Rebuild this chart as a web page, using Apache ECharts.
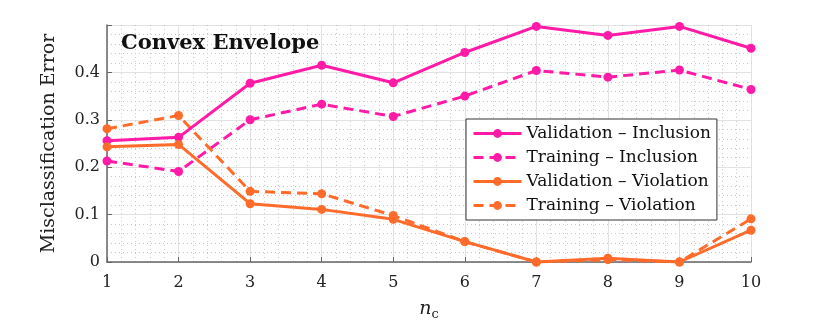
<!DOCTYPE html>
<html>
<head>
<meta charset="utf-8">
<script src="https://cdn.jsdelivr.net/npm/echarts@6/dist/echarts.min.js"></script>
<style>
  html, body { margin: 0; padding: 0; background: #fff; }
  #chart { width: 830px; height: 326px; }
</style>
</head>
<body>
<div id="chart"></div>
<script>
// n_c values on the x axis
const nc = [1, 2, 3, 4, 5, 6, 7, 8, 9, 10]
const valInclusion = [0.256, 0.263, 0.377, 0.415, 0.378, 0.442, 0.497, 0.478, 0.497, 0.451]
const trainInclusion = [0.213, 0.191, 0.300, 0.333, 0.307, 0.350, 0.404, 0.390, 0.405, 0.364]
const valViolation = [0.243, 0.248, 0.123, 0.111, 0.090, 0.043, 0.000, 0.008, 0.000, 0.067]
const trainViolation = [0.281, 0.309, 0.149, 0.144, 0.098, 0.043, 0.000, 0.005, 0.000, 0.091]
const seriesNames = ['Validation – Inclusion', 'Training – Inclusion', 'Validation – Violation', 'Training – Violation']

const pink = '#ff1aa8'
const orange = '#ff6b2b'
const serif = '"DejaVu Serif", "Liberation Serif", serif'

function pairs(ys) {
  return nc.map((x, i) => [x, ys[i]])
}

function makeSeries(name, ys, color, dashed) {
  return {
    name: name,
    type: 'line',
    data: pairs(ys),
    symbol: 'circle',
    symbolSize: 9,
    showAllSymbol: true,
    itemStyle: { color: color },
    lineStyle: { color: color, width: 3, type: dashed ? [10, 6] : 'solid' },
    emphasis: { disabled: true },
    z: dashed ? 2 : 3
  }
}

const chart = echarts.init(document.getElementById('chart'))
const option = {
  animation: false,
  backgroundColor: '#fff',
  grid: { left: 107, right: 79, top: 25, bottom: 64 },
  title: {
    text: 'Convex Envelope',
    left: 121,
    top: 33,
    padding: 0,
    textStyle: { fontFamily: serif, fontWeight: 'bold', fontSize: 21, color: '#111' }
  },
  legend: {
    left: 466,
    top: 119,
    orient: 'vertical',
    data: seriesNames,
    itemWidth: 48,
    itemHeight: 11,
    itemGap: 5,
    padding: [5, 6, 5, 6],
    borderColor: '#333',
    borderWidth: 1,
    backgroundColor: '#fff',
    lineStyle: { width: 3 },
    textStyle: { fontFamily: serif, fontSize: 17, color: '#111', lineHeight: 19 }
  },
  xAxis: {
    type: 'value',
    min: 1,
    max: 10,
    interval: 1,
    name: '{n|n}{c|c}',
    nameLocation: 'middle',
    nameGap: 36,
    nameTextStyle: {
      rich: {
        n: { fontFamily: serif, fontStyle: 'italic', fontSize: 19, color: '#222' },
        c: { fontFamily: serif, fontSize: 13, color: '#222', padding: [10, 0, 0, 0] }
      }
    },
    axisLine: { show: true, lineStyle: { color: '#666', width: 1.5 } },
    axisTick: { show: true, inside: true, length: 5, lineStyle: { color: '#666' } },
    axisLabel: { fontFamily: serif, fontSize: 16, color: '#222', margin: 13 },
    splitLine: { show: true, lineStyle: { color: '#e2e2e2', width: 1 } },
    minorTick: { show: false, splitNumber: 5 },
    minorSplitLine: { show: true, lineStyle: { color: '#c8c8c8', type: [1, 3], width: 1 } }
  },
  yAxis: {
    type: 'value',
    min: 0,
    max: 0.5,
    interval: 0.1,
    name: 'Misclassification Error',
    nameLocation: 'middle',
    nameGap: 48,
    nameTextStyle: { fontFamily: serif, fontSize: 19, color: '#222' },
    axisLine: { show: true, lineStyle: { color: '#666', width: 1.5 } },
    axisTick: { show: true, inside: true, length: 5, lineStyle: { color: '#666' } },
    axisLabel: {
      fontFamily: serif, fontSize: 16, color: '#222', margin: 7,
      formatter: v => (v > 0.45 ? '' : (v === 0 ? '0' : v.toFixed(1)))
    },
    splitLine: { show: true, lineStyle: { color: '#e2e2e2', width: 1 } },
    minorTick: { show: false, splitNumber: 5 },
    minorSplitLine: { show: true, lineStyle: { color: '#c8c8c8', type: [1, 3], width: 1 } }
  },
  series: [
    makeSeries(seriesNames[0], valInclusion, pink, false),
    makeSeries(seriesNames[1], trainInclusion, pink, true),
    makeSeries(seriesNames[2], valViolation, orange, false),
    makeSeries(seriesNames[3], trainViolation, orange, true)
  ]
}
chart.setOption(option)
</script>
</body>
</html>
